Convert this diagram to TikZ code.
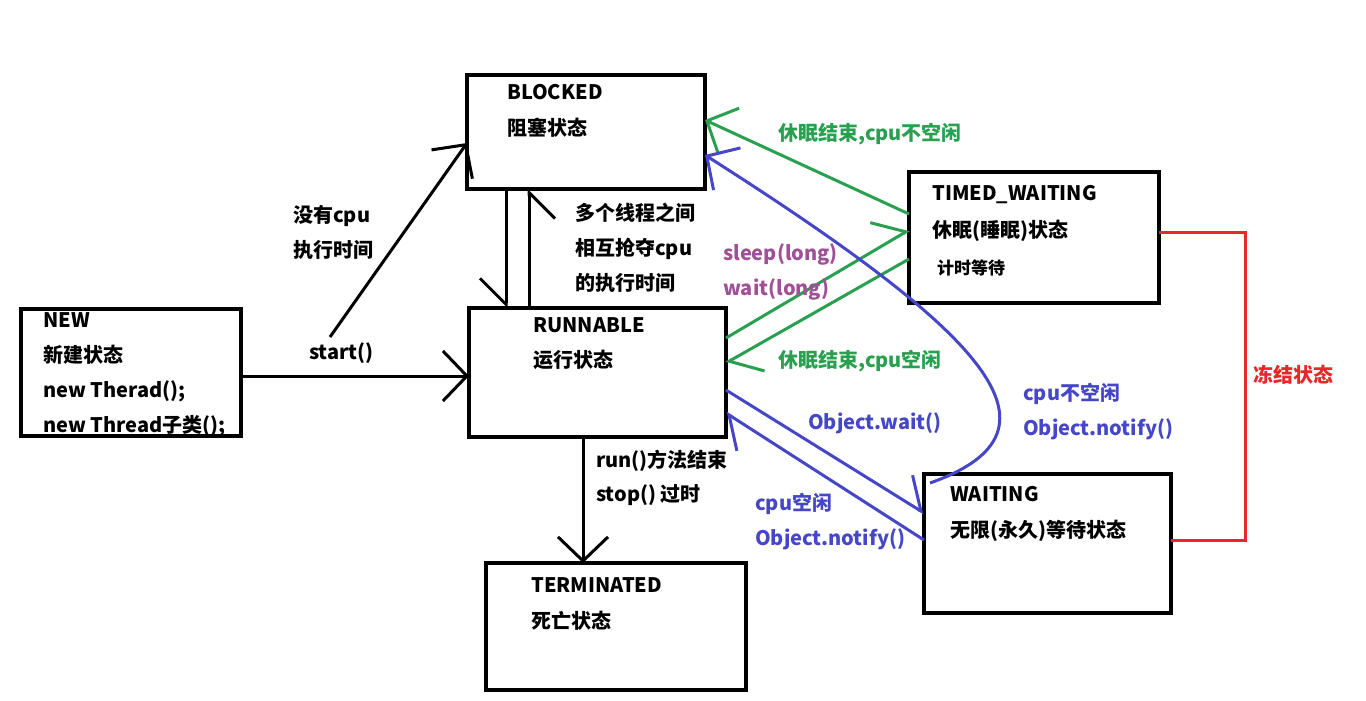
\documentclass[tikz,border=0pt]{standalone}
\usepackage{fontspec}
\setmainfont{Noto Sans CJK SC}
\usetikzlibrary{arrows.meta}
\definecolor{sleepgreen}{RGB}{40,160,80}
\definecolor{waitblue}{RGB}{70,70,200}
\definecolor{longpurple}{RGB}{160,80,150}
\definecolor{freezered}{RGB}{232,40,40}
\tikzset{
  state/.style={draw, line width=4pt, anchor=north west, outer sep=0pt, inner sep=0pt},
  txt/.style={anchor=west, inner sep=0pt, text height=19pt, text depth=4pt,
    font=\fontsize{20}{24}\selectfont\bfseries},
  smalltxt/.style={txt, font=\fontsize{17}{20}\selectfont\bfseries},
  arr/.style={line width=3pt, -{Straight Barb[length=24pt,width=50pt]}},
  harp/.style={line width=3pt, -{Straight Barb[length=26pt,width=52pt,harpoon]}},
  harpsw/.style={line width=3pt, -{Straight Barb[length=26pt,width=52pt,harpoon,swap]}},
}
\begin{document}
\begin{tikzpicture}[x=1pt,y=-1pt]
  \useasboundingbox (0,0) rectangle (1366,701);

  % 状态框
  \node[state, minimum width=220pt, minimum height=127pt] (new) at (21,309) {};
  \node[state, minimum width=238pt, minimum height=114pt] (blocked) at (467,75) {};
  \node[state, minimum width=257pt, minimum height=129pt] (runnable) at (469,308) {};
  \node[state, minimum width=260pt, minimum height=127pt] (terminated) at (486,563) {};
  \node[state, minimum width=250pt, minimum height=131pt] (timed) at (909,172) {};
  \node[state, minimum width=247pt, minimum height=139pt] (waiting) at (924,474) {};

  % 框内文字
  \node[txt] at (43,320) {NEW};
  \node[txt] at (43,355) {新建状态};
  \node[txt] at (43,390) {new Therad();};
  \node[txt] at (43,425) {new Thread子类();};
  \node[txt] at (507,92) {BLOCKED};
  \node[txt] at (507,128) {阻塞状态};
  \node[txt] at (533,325) {RUNNABLE};
  \node[txt] at (533,360) {运行状态};
  \node[txt] at (531,585) {TERMINATED};
  \node[txt] at (531,621) {死亡状态};
  \node[txt] at (932,193) {TIMED\_WAITING};
  \node[txt] at (932,230) {休眠(睡眠)状态};
  \node[smalltxt] at (937,267) {计时等待};
  \node[txt] at (950,494) {WAITING};
  \node[txt] at (950,530) {无限(永久)等待状态};

  % 黑色箭头
  \coordinate (nocpu) at (330,337);
  \draw[arr] (new.east |- 0,376) -- (runnable.west |- 0,376);
  \draw[arr] (nocpu) -- (blocked.west |- 0,143);
  \draw[harpsw] (blocked.south -| 506,0) -- (runnable.north -| 506,0);
  \draw[harpsw] (runnable.north -| 529,0) -- (blocked.south -| 529,0);
  \draw[arr] (runnable.south -| 583,0) -- (terminated.north -| 583,0);

  % 绿色箭头
  \draw[arr, sleepgreen] (timed.west |- 0,214) -- (blocked.east |- 0,120);
  \draw[harp, sleepgreen] (runnable.east |- 0,338) -- (timed.west |- 0,230);
  \draw[harp, sleepgreen] (timed.west |- 0,259) -- (runnable.east |- 0,363);

  % 蓝色箭头
  \draw[arr, waitblue] ([xshift=6pt,yshift=-9pt]waiting.north west)
    .. controls (1080,430) and (980,330) .. (blocked.east |- 0,155);
  \draw[harp, waitblue] (runnable.east |- 0,390) -- (waiting.west |- 0,513);
  \draw[harp, waitblue] (waiting.west |- 0,540) -- (runnable.east |- 0,413);

  % 冻结状态
  \draw[freezered, line width=3pt] (timed.east |- 0,232) -- (1245,232) |- (waiting.east |- 0,540);

  % 标注
  \node[txt] at (293,215) {没有cpu};
  \node[txt] at (293,250) {执行时间};
  \node[txt] at (309,352) {start()};
  \node[txt] at (575,213) {多个线程之间};
  \node[txt] at (575,248) {相互抢夺cpu};
  \node[txt] at (575,283) {的执行时间};
  \node[txt] at (596,460) {run()方法结束};
  \node[txt] at (596,494) {stop() 过时};
  \node[txt, longpurple] at (723,253) {sleep(long)};
  \node[txt, longpurple] at (723,288) {wait(long)};
  \node[txt, sleepgreen] at (778,133) {休眠结束,cpu不空闲};
  \node[txt, sleepgreen] at (778,360) {休眠结束,cpu空闲};
  \node[txt, waitblue] at (808,422) {Object.wait()};
  \node[txt, waitblue] at (755,503) {cpu空闲};
  \node[txt, waitblue] at (755,538) {Object.notify()};
  \node[txt, waitblue] at (1023,393) {cpu不空闲};
  \node[txt, waitblue] at (1023,428) {Object.notify()};
  \node[txt, freezered] at (1253,375) {冻结状态};
\end{tikzpicture}
\end{document}
